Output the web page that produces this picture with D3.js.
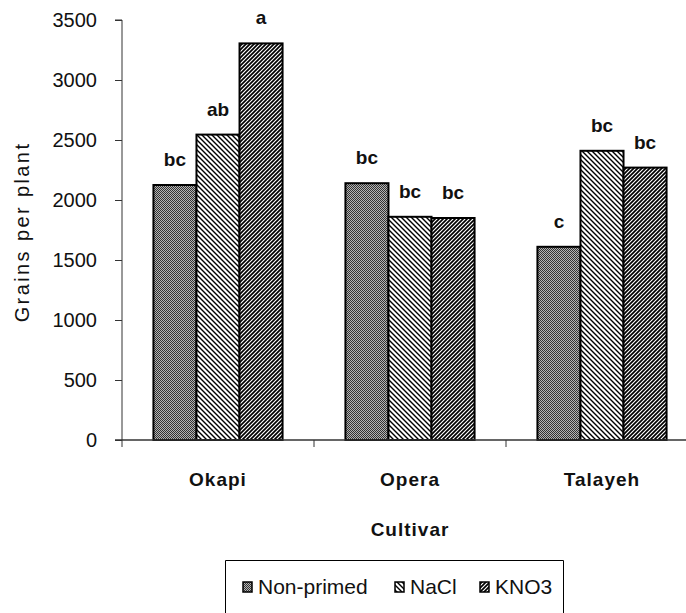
<!DOCTYPE html>
<html>
<head>
<meta charset="utf-8">
<script src="https://cdn.jsdelivr.net/npm/d3@7"></script>
<style>
  html, body { margin: 0; padding: 0; background: #fff; }
  svg { display: block; font-family: "Liberation Sans", Arial, sans-serif; }
</style>
</head>
<body>
<svg id="chart" width="686" height="613"></svg>
<script>
const categories = ["Okapi", "Opera", "Talayeh"];
const series = ["Non-primed", "NaCl", "KNO3"];
const nonPrimed = [2125, 2140, 1610];
const nacl = [2545, 1860, 2410];
const kno3 = [3305, 1850, 2270];
const letters = [["bc", "ab", "a"], ["bc", "bc", "bc"], ["c", "bc", "bc"]];
const yTicks = [0, 500, 1000, 1500, 2000, 2500, 3000, 3500];

const values = [nonPrimed, nacl, kno3];
const svg = d3.select("#chart");

// patterns
const defs = svg.append("defs");
const p0 = defs.append("pattern").attr("id", "pat0").attr("patternUnits", "userSpaceOnUse")
  .attr("width", 2).attr("height", 2);
p0.append("rect").attr("width", 2).attr("height", 2).attr("fill", "#b4b4b4");
p0.append("rect").attr("width", 1).attr("height", 1).attr("fill", "#333");
p0.append("rect").attr("x", 1).attr("y", 1).attr("width", 1).attr("height", 1).attr("fill", "#333");

const p1 = defs.append("pattern").attr("id", "pat1").attr("patternUnits", "userSpaceOnUse")
  .attr("width", 5).attr("height", 5);
p1.append("rect").attr("width", 5).attr("height", 5).attr("fill", "#fff");
p1.append("path").attr("d", "M-1,-1 L6,6 M-1,4 L1,6 M4,-1 L6,1").attr("stroke", "#000").attr("stroke-width", 1.4);

const p2 = defs.append("pattern").attr("id", "pat2").attr("patternUnits", "userSpaceOnUse")
  .attr("width", 4).attr("height", 4);
p2.append("rect").attr("width", 4).attr("height", 4).attr("fill", "#fff");
p2.append("path").attr("d", "M-1,5 L5,-1 M-1,1 L1,-1 M3,5 L5,3").attr("stroke", "#000").attr("stroke-width", 1.7);

const fills = ["url(#pat0)", "url(#pat1)", "url(#pat2)"];

const y = d3.scaleLinear().domain([0, 3500]).range([440, 20]);
const x0 = d3.scaleBand().domain(categories).range([122, 698]).padding(0);
const x1 = d3.scaleBand().domain(series).range([0, x0.bandwidth()]).paddingInner(0).paddingOuter(0.73);

// y axis
const yAxis = svg.append("g").attr("transform", "translate(122,0)")
  .call(d3.axisLeft(y).tickValues(yTicks).tickSize(7).tickPadding(18).tickFormat(d3.format("d")));
yAxis.select(".domain").attr("stroke", "#333").attr("d", "M-7,20H0V447");
yAxis.selectAll(".tick line").attr("stroke", "#333");
yAxis.selectAll(".tick text").attr("font-size", 20).attr("fill", "#111")
  .attr("font-family", "'Liberation Sans', Arial, sans-serif");

// bars
categories.forEach((c, ci) => {
  const g = svg.append("g").attr("transform", `translate(${x0(c)},0)`);
  series.forEach((s, si) => {
    const v = values[si][ci];
    g.append("rect")
      .attr("x", x1(s)).attr("y", y(v))
      .attr("width", x1.bandwidth()).attr("height", y(0) - y(v))
      .attr("fill", fills[si]).attr("stroke", "#000").attr("stroke-width", 2);
    g.append("text")
      .attr("x", x1(s) + x1.bandwidth() / 2).attr("y", y(v) - 19)
      .attr("text-anchor", "middle").attr("font-size", 19).attr("font-weight", "bold")
      .attr("fill", "#111").text(letters[ci][si]);
  });
});

// x axis
const xAxis = svg.append("g").attr("transform", "translate(0,440)");
xAxis.append("line").attr("x1", 115).attr("x2", 686).attr("y1", 0).attr("y2", 0)
  .attr("stroke", "#333").attr("stroke-width", 1.5);
categories.forEach(c => {
  const xb = x0(c) + x0.bandwidth();
  xAxis.append("line").attr("x1", xb).attr("x2", xb).attr("y1", 0).attr("y2", 7).attr("stroke", "#333");
  svg.append("text").attr("x", x0(c) + x0.bandwidth() / 2).attr("y", 486)
    .attr("text-anchor", "middle").attr("font-size", 19).attr("font-weight", "bold")
    .attr("letter-spacing", 1).attr("fill", "#111").text(c);
});

// axis titles
svg.append("text").attr("x", 410).attr("y", 536).attr("text-anchor", "middle")
  .attr("font-size", 19).attr("font-weight", "bold").attr("letter-spacing", 1)
  .attr("fill", "#111").text("Cultivar");
svg.append("text").attr("transform", "translate(29,232) rotate(-90)").attr("text-anchor", "middle")
  .attr("font-size", 20).attr("letter-spacing", 2.4).attr("fill", "#111").text("Grains per plant");

// legend
const leg = svg.append("g");
leg.append("path").attr("d", "M225.5,620V560.5H563.5V620").attr("fill", "none").attr("stroke", "#000").attr("stroke-width", 1);
const legX = [243, 395, 480];
series.forEach((s, i) => {
  leg.append("rect").attr("x", legX[i]).attr("y", 582).attr("width", 9).attr("height", 10)
    .attr("fill", fills[i]).attr("stroke", "#000").attr("stroke-width", 1.5);
  leg.append("text").attr("x", legX[i] + 15).attr("y", 594).attr("font-size", 21)
    .attr("fill", "#111").text(s);
});
</script>
</body>
</html>
